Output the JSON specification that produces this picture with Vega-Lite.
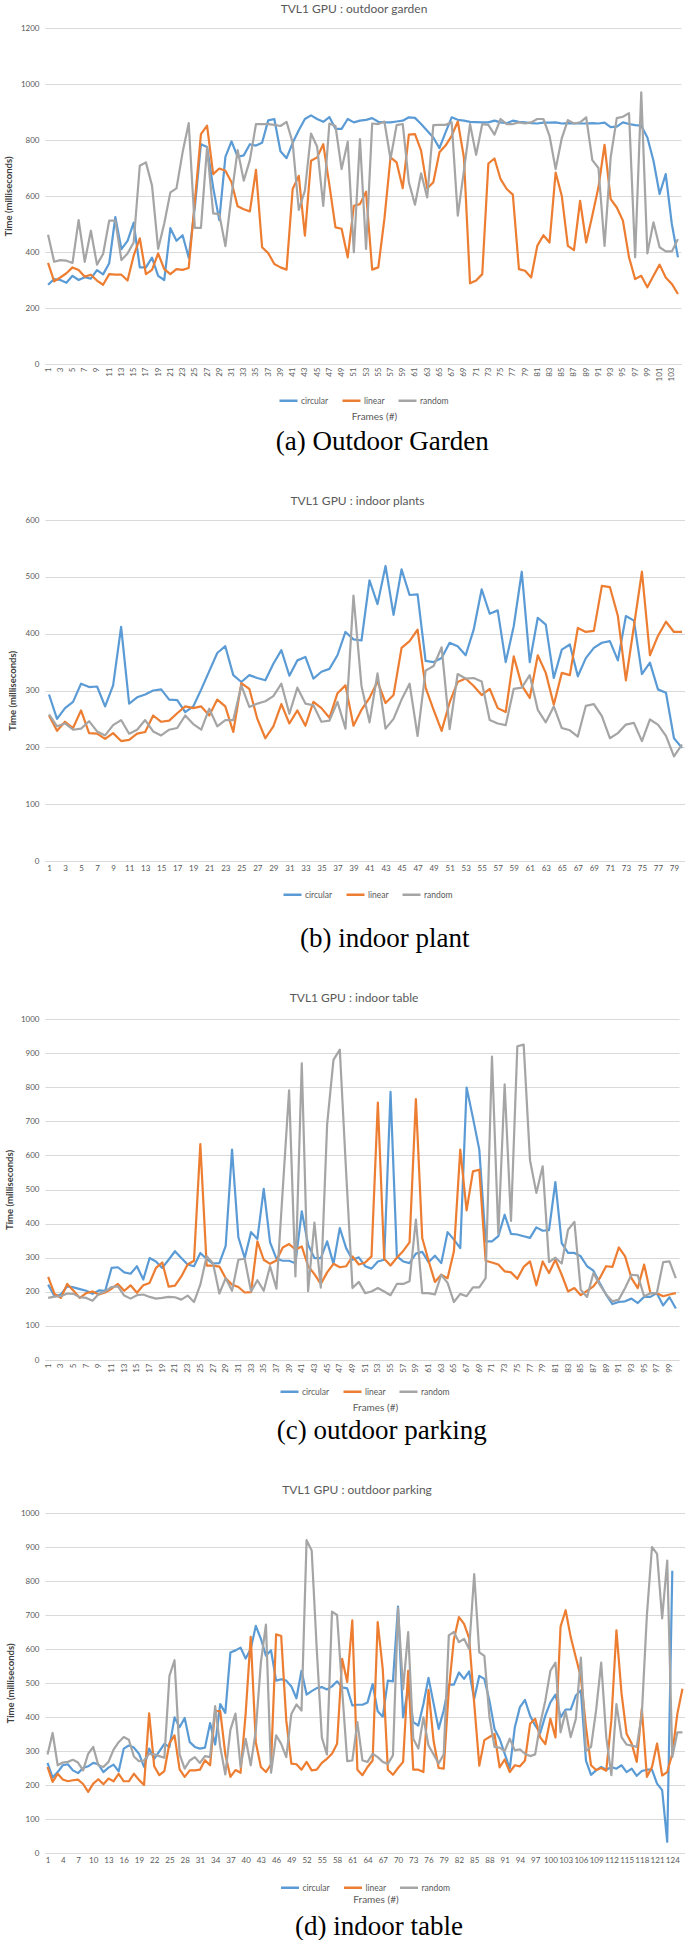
{
"$schema": "https://vega.github.io/schema/vega-lite/v6.json",
"padding": {"left": 3, "top": 3, "right": 0, "bottom": 0},
"background": "white",
"spacing": 40,
"resolve": {"scale": {"color": "independent"}, "legend": {"color": "independent"}},
"datasets": {
"garden": [
{"frame":1,"circular":283,"linear":361,"random":462},
{"frame":2,"circular":303,"linear":295,"random":365},
{"frame":3,"circular":300,"linear":309,"random":371},
{"frame":4,"circular":290,"linear":324,"random":369},
{"frame":5,"circular":315,"linear":345,"random":361},
{"frame":6,"circular":300,"linear":336,"random":514},
{"frame":7,"circular":310,"linear":312,"random":365},
{"frame":8,"circular":305,"linear":319,"random":476},
{"frame":9,"circular":335,"linear":298,"random":355},
{"frame":10,"circular":320,"linear":283,"random":393},
{"frame":11,"circular":360,"linear":321,"random":512},
{"frame":12,"circular":525,"linear":319,"random":512},
{"frame":13,"circular":410,"linear":319,"random":371},
{"frame":14,"circular":440,"linear":298,"random":395},
{"frame":15,"circular":505,"linear":387,"random":434},
{"frame":16,"circular":345,"linear":449,"random":708},
{"frame":17,"circular":345,"linear":321,"random":720},
{"frame":18,"circular":380,"linear":336,"random":637},
{"frame":19,"circular":315,"linear":395,"random":411},
{"frame":20,"circular":300,"linear":339,"random":502},
{"frame":21,"circular":485,"linear":321,"random":613},
{"frame":22,"circular":440,"linear":339,"random":627},
{"frame":23,"circular":460,"linear":336,"random":756},
{"frame":24,"circular":380,"linear":343,"random":860},
{"frame":25,"circular":560,"linear":580,"random":486},
{"frame":26,"circular":785,"linear":821,"random":486},
{"frame":27,"circular":775,"linear":851,"random":774},
{"frame":28,"circular":630,"linear":678,"random":538},
{"frame":29,"circular":514,"linear":698,"random":535},
{"frame":30,"circular":740,"linear":690,"random":421},
{"frame":31,"circular":795,"linear":649,"random":601},
{"frame":32,"circular":740,"linear":563,"random":764},
{"frame":33,"circular":745,"linear":553,"random":655},
{"frame":34,"circular":785,"linear":545,"random":728},
{"frame":35,"circular":780,"linear":693,"random":857},
{"frame":36,"circular":790,"linear":417,"random":857},
{"frame":37,"circular":870,"linear":396,"random":857},
{"frame":38,"circular":875,"linear":357,"random":854},
{"frame":39,"circular":760,"linear":345,"random":850},
{"frame":40,"circular":735,"linear":337,"random":865},
{"frame":41,"circular":790,"linear":625,"random":790},
{"frame":42,"circular":835,"linear":672,"random":550},
{"frame":43,"circular":875,"linear":458,"random":619},
{"frame":44,"circular":888,"linear":726,"random":823},
{"frame":45,"circular":875,"linear":738,"random":776},
{"frame":46,"circular":865,"linear":785,"random":565},
{"frame":47,"circular":882,"linear":640,"random":859},
{"frame":48,"circular":840,"linear":488,"random":850},
{"frame":49,"circular":840,"linear":483,"random":696},
{"frame":50,"circular":875,"linear":381,"random":794},
{"frame":51,"circular":863,"linear":565,"random":399},
{"frame":52,"circular":869,"linear":571,"random":803},
{"frame":53,"circular":872,"linear":615,"random":411},
{"frame":54,"circular":878,"linear":337,"random":859},
{"frame":55,"circular":865,"linear":345,"random":857},
{"frame":56,"circular":863,"linear":518,"random":866},
{"frame":57,"circular":863,"linear":738,"random":732},
{"frame":58,"circular":866,"linear":720,"random":853},
{"frame":59,"circular":869,"linear":628,"random":857},
{"frame":60,"circular":881,"linear":819,"random":649},
{"frame":61,"circular":879,"linear":821,"random":569},
{"frame":62,"circular":857,"linear":762,"random":681},
{"frame":63,"circular":833,"linear":627,"random":595},
{"frame":64,"circular":809,"linear":649,"random":853},
{"frame":65,"circular":771,"linear":756,"random":854},
{"frame":66,"circular":827,"linear":780,"random":854},
{"frame":67,"circular":881,"linear":815,"random":863},
{"frame":68,"circular":872,"linear":866,"random":530},
{"frame":69,"circular":869,"linear":738,"random":690},
{"frame":70,"circular":865,"linear":288,"random":857},
{"frame":71,"circular":864,"linear":298,"random":747},
{"frame":72,"circular":863,"linear":321,"random":857},
{"frame":73,"circular":863,"linear":716,"random":854},
{"frame":74,"circular":869,"linear":734,"random":819},
{"frame":75,"circular":863,"linear":660,"random":875},
{"frame":76,"circular":860,"linear":625,"random":857},
{"frame":77,"circular":869,"linear":605,"random":857},
{"frame":78,"circular":865,"linear":339,"random":863},
{"frame":79,"circular":863,"linear":333,"random":859},
{"frame":80,"circular":860,"linear":309,"random":863},
{"frame":81,"circular":859,"linear":422,"random":875},
{"frame":82,"circular":862,"linear":460,"random":875},
{"frame":83,"circular":862,"linear":434,"random":815},
{"frame":84,"circular":863,"linear":684,"random":696},
{"frame":85,"circular":859,"linear":601,"random":806},
{"frame":86,"circular":860,"linear":422,"random":871},
{"frame":87,"circular":859,"linear":407,"random":859},
{"frame":88,"circular":859,"linear":583,"random":863},
{"frame":89,"circular":859,"linear":434,"random":881},
{"frame":90,"circular":860,"linear":530,"random":728},
{"frame":91,"circular":859,"linear":631,"random":700},
{"frame":92,"circular":862,"linear":783,"random":422},
{"frame":93,"circular":846,"linear":589,"random":738},
{"frame":94,"circular":848,"linear":559,"random":878},
{"frame":95,"circular":863,"linear":512,"random":883},
{"frame":96,"circular":857,"linear":381,"random":896},
{"frame":97,"circular":853,"linear":303,"random":381},
{"frame":98,"circular":851,"linear":315,"random":970},
{"frame":99,"circular":809,"linear":274,"random":395},
{"frame":100,"circular":726,"linear":315,"random":506},
{"frame":101,"circular":607,"linear":355,"random":417},
{"frame":102,"circular":678,"linear":309,"random":402},
{"frame":103,"circular":500,"linear":286,"random":402},
{"frame":104,"circular":381,"linear":250,"random":446}
],
"plant": [
{"frame":1,"circular":293,"linear":256,"random":258},
{"frame":2,"circular":250,"linear":229,"random":237},
{"frame":3,"circular":269,"linear":245,"random":242},
{"frame":4,"circular":280,"linear":234,"random":231},
{"frame":5,"circular":312,"linear":265,"random":233},
{"frame":6,"circular":306,"linear":225,"random":246},
{"frame":7,"circular":307,"linear":224,"random":228},
{"frame":8,"circular":272,"linear":215,"random":221},
{"frame":9,"circular":309,"linear":225,"random":239},
{"frame":10,"circular":412,"linear":211,"random":248},
{"frame":11,"circular":277,"linear":213,"random":224},
{"frame":12,"circular":288,"linear":224,"random":231},
{"frame":13,"circular":293,"linear":227,"random":248},
{"frame":14,"circular":300,"linear":256,"random":228},
{"frame":15,"circular":302,"linear":245,"random":221},
{"frame":16,"circular":284,"linear":247,"random":231},
{"frame":17,"circular":283,"linear":260,"random":234},
{"frame":18,"circular":262,"linear":272,"random":256},
{"frame":19,"circular":272,"linear":269,"random":241},
{"frame":20,"circular":302,"linear":272,"random":231},
{"frame":21,"circular":334,"linear":256,"random":268},
{"frame":22,"circular":366,"linear":284,"random":237},
{"frame":23,"circular":378,"linear":272,"random":248},
{"frame":24,"circular":327,"linear":227,"random":248},
{"frame":25,"circular":315,"linear":313,"random":309},
{"frame":26,"circular":327,"linear":303,"random":271},
{"frame":27,"circular":322,"linear":250,"random":277},
{"frame":28,"circular":318,"linear":216,"random":281},
{"frame":29,"circular":347,"linear":237,"random":290},
{"frame":30,"circular":371,"linear":276,"random":312},
{"frame":31,"circular":326,"linear":242,"random":259},
{"frame":32,"circular":353,"linear":265,"random":305},
{"frame":33,"circular":359,"linear":238,"random":277},
{"frame":34,"circular":321,"linear":280,"random":274},
{"frame":35,"circular":333,"linear":269,"random":245},
{"frame":36,"circular":338,"linear":252,"random":247},
{"frame":37,"circular":362,"linear":295,"random":280},
{"frame":38,"circular":403,"linear":309,"random":233},
{"frame":39,"circular":390,"linear":238,"random":467},
{"frame":40,"circular":388,"linear":266,"random":308},
{"frame":41,"circular":494,"linear":287,"random":244},
{"frame":42,"circular":452,"linear":316,"random":330},
{"frame":43,"circular":519,"linear":278,"random":233},
{"frame":44,"circular":433,"linear":292,"random":250},
{"frame":45,"circular":513,"linear":375,"random":284},
{"frame":46,"circular":468,"linear":387,"random":312},
{"frame":47,"circular":469,"linear":407,"random":220},
{"frame":48,"circular":352,"linear":305,"random":335},
{"frame":49,"circular":350,"linear":266,"random":343},
{"frame":50,"circular":357,"linear":229,"random":376},
{"frame":51,"circular":384,"linear":279,"random":232},
{"frame":52,"circular":378,"linear":315,"random":329},
{"frame":53,"circular":362,"linear":321,"random":321},
{"frame":54,"circular":407,"linear":308,"random":322},
{"frame":55,"circular":478,"linear":292,"random":316},
{"frame":56,"circular":435,"linear":303,"random":248},
{"frame":57,"circular":441,"linear":269,"random":242},
{"frame":58,"circular":350,"linear":262,"random":239},
{"frame":59,"circular":413,"linear":360,"random":303},
{"frame":60,"circular":509,"linear":309,"random":305},
{"frame":61,"circular":350,"linear":287,"random":327},
{"frame":62,"circular":428,"linear":362,"random":266},
{"frame":63,"circular":416,"linear":331,"random":244},
{"frame":64,"circular":322,"linear":275,"random":272},
{"frame":65,"circular":372,"linear":331,"random":234},
{"frame":66,"circular":381,"linear":327,"random":230},
{"frame":67,"circular":325,"linear":410,"random":219},
{"frame":68,"circular":357,"linear":403,"random":273},
{"frame":69,"circular":375,"linear":405,"random":276},
{"frame":70,"circular":384,"linear":484,"random":255},
{"frame":71,"circular":387,"linear":482,"random":216},
{"frame":72,"circular":353,"linear":431,"random":225},
{"frame":73,"circular":431,"linear":318,"random":240},
{"frame":74,"circular":423,"linear":413,"random":243},
{"frame":75,"circular":329,"linear":509,"random":211},
{"frame":76,"circular":349,"linear":362,"random":249},
{"frame":77,"circular":302,"linear":396,"random":240},
{"frame":78,"circular":296,"linear":421,"random":220},
{"frame":79,"circular":216,"linear":403,"random":184},
{"frame":80,"circular":199,"linear":403,"random":205}
],
"parking": [
{"frame":1,"circular":221,"linear":244,"random":182},
{"frame":2,"circular":187,"linear":194,"random":186},
{"frame":3,"circular":192,"linear":182,"random":187},
{"frame":4,"circular":216,"linear":223,"random":195},
{"frame":5,"circular":213,"linear":203,"random":194},
{"frame":6,"circular":208,"linear":182,"random":184},
{"frame":7,"circular":203,"linear":196,"random":182},
{"frame":8,"circular":194,"linear":201,"random":174},
{"frame":9,"circular":204,"linear":192,"random":194},
{"frame":10,"circular":203,"linear":198,"random":201},
{"frame":11,"circular":270,"linear":209,"random":214},
{"frame":12,"circular":272,"linear":223,"random":216},
{"frame":13,"circular":257,"linear":203,"random":189},
{"frame":14,"circular":253,"linear":219,"random":180},
{"frame":15,"circular":275,"linear":197,"random":190},
{"frame":16,"circular":236,"linear":219,"random":192},
{"frame":17,"circular":299,"linear":226,"random":185},
{"frame":18,"circular":289,"linear":270,"random":180},
{"frame":19,"circular":270,"linear":286,"random":182},
{"frame":20,"circular":294,"linear":215,"random":185},
{"frame":21,"circular":319,"linear":218,"random":184},
{"frame":22,"circular":299,"linear":245,"random":177},
{"frame":23,"circular":280,"linear":280,"random":189},
{"frame":24,"circular":275,"linear":291,"random":170},
{"frame":25,"circular":314,"linear":633,"random":221},
{"frame":26,"circular":296,"linear":277,"random":304},
{"frame":27,"circular":283,"linear":277,"random":284},
{"frame":28,"circular":284,"linear":274,"random":195},
{"frame":29,"circular":335,"linear":240,"random":240},
{"frame":30,"circular":617,"linear":221,"random":203},
{"frame":31,"circular":360,"linear":214,"random":294},
{"frame":32,"circular":299,"linear":198,"random":297},
{"frame":33,"circular":375,"linear":199,"random":201},
{"frame":34,"circular":355,"linear":348,"random":234},
{"frame":35,"circular":502,"linear":294,"random":203},
{"frame":36,"circular":345,"linear":282,"random":275},
{"frame":37,"circular":297,"linear":292,"random":209},
{"frame":38,"circular":291,"linear":330,"random":500},
{"frame":39,"circular":291,"linear":340,"random":791},
{"frame":40,"circular":284,"linear":324,"random":245},
{"frame":41,"circular":436,"linear":333,"random":870},
{"frame":42,"circular":338,"linear":275,"random":202},
{"frame":43,"circular":299,"linear":252,"random":403},
{"frame":44,"circular":299,"linear":223,"random":212},
{"frame":45,"circular":348,"linear":257,"random":691},
{"frame":46,"circular":282,"linear":282,"random":880},
{"frame":47,"circular":387,"linear":272,"random":910},
{"frame":48,"circular":328,"linear":275,"random":550},
{"frame":49,"circular":294,"linear":304,"random":211},
{"frame":50,"circular":301,"linear":280,"random":229},
{"frame":51,"circular":275,"linear":286,"random":196},
{"frame":52,"circular":268,"linear":304,"random":201},
{"frame":53,"circular":289,"linear":755,"random":211},
{"frame":54,"circular":294,"linear":297,"random":201},
{"frame":55,"circular":786,"linear":277,"random":190},
{"frame":56,"circular":304,"linear":300,"random":223},
{"frame":57,"circular":289,"linear":320,"random":223},
{"frame":58,"circular":284,"linear":345,"random":231},
{"frame":59,"circular":312,"linear":765,"random":412},
{"frame":60,"circular":317,"linear":358,"random":196},
{"frame":61,"circular":287,"linear":291,"random":196},
{"frame":62,"circular":306,"linear":229,"random":192},
{"frame":63,"circular":284,"linear":250,"random":250},
{"frame":64,"circular":375,"linear":240,"random":226},
{"frame":65,"circular":353,"linear":319,"random":170},
{"frame":66,"circular":328,"linear":617,"random":194},
{"frame":67,"circular":799,"linear":439,"random":187},
{"frame":68,"circular":710,"linear":553,"random":213},
{"frame":69,"circular":617,"linear":558,"random":213},
{"frame":70,"circular":348,"linear":291,"random":240},
{"frame":71,"circular":348,"linear":286,"random":890},
{"frame":72,"circular":363,"linear":280,"random":370},
{"frame":73,"circular":426,"linear":260,"random":808},
{"frame":74,"circular":370,"linear":257,"random":408},
{"frame":75,"circular":368,"linear":238,"random":920},
{"frame":76,"circular":363,"linear":273,"random":925},
{"frame":77,"circular":358,"linear":289,"random":586},
{"frame":78,"circular":389,"linear":219,"random":490},
{"frame":79,"circular":379,"linear":289,"random":568},
{"frame":80,"circular":381,"linear":255,"random":287},
{"frame":81,"circular":522,"linear":294,"random":300},
{"frame":82,"circular":343,"linear":250,"random":283},
{"frame":83,"circular":314,"linear":201,"random":382},
{"frame":84,"circular":314,"linear":211,"random":405},
{"frame":85,"circular":304,"linear":190,"random":206},
{"frame":86,"circular":275,"linear":203,"random":185},
{"frame":87,"circular":262,"linear":216,"random":255},
{"frame":88,"circular":226,"linear":240,"random":221},
{"frame":89,"circular":192,"linear":275,"random":192},
{"frame":90,"circular":164,"linear":273,"random":172},
{"frame":91,"circular":170,"linear":330,"random":177},
{"frame":92,"circular":172,"linear":304,"random":211},
{"frame":93,"circular":180,"linear":240,"random":250},
{"frame":94,"circular":167,"linear":211,"random":248},
{"frame":95,"circular":185,"linear":280,"random":187},
{"frame":96,"circular":185,"linear":196,"random":196},
{"frame":97,"circular":196,"linear":196,"random":196},
{"frame":98,"circular":160,"linear":187,"random":287},
{"frame":99,"circular":184,"linear":192,"random":289},
{"frame":100,"circular":151,"linear":196,"random":240}
],
"table": [
{"frame":1,"circular":265,"linear":253,"random":290},
{"frame":2,"circular":222,"linear":209,"random":353},
{"frame":3,"circular":238,"linear":233,"random":258},
{"frame":4,"circular":258,"linear":216,"random":266},
{"frame":5,"circular":261,"linear":211,"random":268},
{"frame":6,"circular":243,"linear":214,"random":274},
{"frame":7,"circular":235,"linear":216,"random":266},
{"frame":8,"circular":250,"linear":203,"random":243},
{"frame":9,"circular":255,"linear":180,"random":292},
{"frame":10,"circular":265,"linear":204,"random":312},
{"frame":11,"circular":261,"linear":217,"random":258},
{"frame":12,"circular":238,"linear":202,"random":253},
{"frame":13,"circular":251,"linear":219,"random":268},
{"frame":14,"circular":260,"linear":211,"random":304},
{"frame":15,"circular":240,"linear":233,"random":326},
{"frame":16,"circular":307,"linear":211,"random":341},
{"frame":17,"circular":316,"linear":211,"random":333},
{"frame":18,"circular":310,"linear":233,"random":284},
{"frame":19,"circular":292,"linear":215,"random":270},
{"frame":20,"circular":253,"linear":200,"random":272},
{"frame":21,"circular":307,"linear":411,"random":292},
{"frame":22,"circular":277,"linear":255,"random":290},
{"frame":23,"circular":299,"linear":229,"random":285},
{"frame":24,"circular":321,"linear":241,"random":280},
{"frame":25,"circular":312,"linear":323,"random":521},
{"frame":26,"circular":399,"linear":346,"random":567},
{"frame":27,"circular":370,"linear":246,"random":290},
{"frame":28,"circular":397,"linear":224,"random":248},
{"frame":29,"circular":326,"linear":243,"random":272},
{"frame":30,"circular":312,"linear":243,"random":282},
{"frame":31,"circular":307,"linear":245,"random":265},
{"frame":32,"circular":310,"linear":273,"random":285},
{"frame":33,"circular":382,"linear":258,"random":282},
{"frame":34,"circular":319,"linear":417,"random":432},
{"frame":35,"circular":438,"linear":417,"random":312},
{"frame":36,"circular":412,"linear":290,"random":231},
{"frame":37,"circular":590,"linear":224,"random":362},
{"frame":38,"circular":596,"linear":244,"random":410},
{"frame":39,"circular":604,"linear":236,"random":253},
{"frame":40,"circular":572,"linear":409,"random":336},
{"frame":41,"circular":600,"linear":636,"random":258},
{"frame":42,"circular":668,"linear":326,"random":360},
{"frame":43,"circular":630,"linear":253,"random":560},
{"frame":44,"circular":580,"linear":238,"random":672},
{"frame":45,"circular":596,"linear":261,"random":236},
{"frame":46,"circular":507,"linear":643,"random":346},
{"frame":47,"circular":511,"linear":638,"random":321},
{"frame":48,"circular":507,"linear":390,"random":282},
{"frame":49,"circular":490,"linear":263,"random":409},
{"frame":50,"circular":455,"linear":261,"random":437},
{"frame":51,"circular":536,"linear":245,"random":419},
{"frame":52,"circular":466,"linear":268,"random":920},
{"frame":53,"circular":476,"linear":243,"random":890},
{"frame":54,"circular":485,"linear":245,"random":600},
{"frame":55,"circular":488,"linear":265,"random":340},
{"frame":56,"circular":481,"linear":277,"random":290},
{"frame":57,"circular":490,"linear":292,"random":710},
{"frame":58,"circular":505,"linear":321,"random":700},
{"frame":59,"circular":487,"linear":571,"random":480},
{"frame":60,"circular":484,"linear":503,"random":270},
{"frame":61,"circular":434,"linear":684,"random":272},
{"frame":62,"circular":436,"linear":245,"random":385},
{"frame":63,"circular":436,"linear":229,"random":272},
{"frame":64,"circular":443,"linear":253,"random":268},
{"frame":65,"circular":497,"linear":272,"random":292},
{"frame":66,"circular":417,"linear":679,"random":282},
{"frame":67,"circular":401,"linear":540,"random":268},
{"frame":68,"circular":507,"linear":245,"random":262},
{"frame":69,"circular":505,"linear":230,"random":287},
{"frame":70,"circular":725,"linear":250,"random":720},
{"frame":71,"circular":399,"linear":268,"random":482},
{"frame":72,"circular":485,"linear":536,"random":650},
{"frame":73,"circular":385,"linear":245,"random":336},
{"frame":74,"circular":375,"linear":245,"random":307},
{"frame":75,"circular":438,"linear":238,"random":399},
{"frame":76,"circular":515,"linear":480,"random":316},
{"frame":77,"circular":440,"linear":330,"random":290},
{"frame":78,"circular":365,"linear":250,"random":263},
{"frame":79,"circular":420,"linear":248,"random":290},
{"frame":80,"circular":495,"linear":480,"random":640},
{"frame":81,"circular":495,"linear":628,"random":650},
{"frame":82,"circular":531,"linear":694,"random":620},
{"frame":83,"circular":512,"linear":674,"random":630},
{"frame":84,"circular":534,"linear":632,"random":600},
{"frame":85,"circular":453,"linear":440,"random":820},
{"frame":86,"circular":521,"linear":257,"random":590},
{"frame":87,"circular":512,"linear":332,"random":580},
{"frame":88,"circular":448,"linear":341,"random":400},
{"frame":89,"circular":365,"linear":350,"random":312},
{"frame":90,"circular":336,"linear":252,"random":310},
{"frame":91,"circular":292,"linear":275,"random":300},
{"frame":92,"circular":248,"linear":238,"random":336},
{"frame":93,"circular":370,"linear":258,"random":302},
{"frame":94,"circular":429,"linear":255,"random":305},
{"frame":95,"circular":450,"linear":272,"random":292},
{"frame":96,"circular":404,"linear":380,"random":285},
{"frame":97,"circular":375,"linear":395,"random":290},
{"frame":98,"circular":353,"linear":340,"random":380},
{"frame":99,"circular":404,"linear":320,"random":448},
{"frame":100,"circular":443,"linear":395,"random":536},
{"frame":101,"circular":466,"linear":340,"random":560},
{"frame":102,"circular":399,"linear":666,"random":355},
{"frame":103,"circular":422,"linear":714,"random":416},
{"frame":104,"circular":422,"linear":635,"random":341},
{"frame":105,"circular":463,"linear":576,"random":394},
{"frame":106,"circular":478,"linear":517,"random":575},
{"frame":107,"circular":272,"linear":371,"random":300},
{"frame":108,"circular":230,"linear":258,"random":312},
{"frame":109,"circular":243,"linear":244,"random":420},
{"frame":110,"circular":253,"linear":250,"random":560},
{"frame":111,"circular":245,"linear":242,"random":340},
{"frame":112,"circular":253,"linear":390,"random":229},
{"frame":113,"circular":248,"linear":655,"random":438},
{"frame":114,"circular":258,"linear":470,"random":341},
{"frame":115,"circular":238,"linear":351,"random":319},
{"frame":116,"circular":248,"linear":322,"random":316},
{"frame":117,"circular":227,"linear":268,"random":312},
{"frame":118,"circular":241,"linear":425,"random":409},
{"frame":119,"circular":245,"linear":224,"random":700},
{"frame":120,"circular":245,"linear":253,"random":900},
{"frame":121,"circular":204,"linear":322,"random":880},
{"frame":122,"circular":185,"linear":228,"random":690},
{"frame":123,"circular":33,"linear":238,"random":860},
{"frame":124,"circular":830,"linear":292,"random":282},
{"frame":125,"circular":null,"linear":410,"random":355},
{"frame":126,"circular":null,"linear":483,"random":355}
]
},
"vconcat": [
{
"title": {"text": "(a) Outdoor Garden", "orient": "bottom", "font": "Liberation Serif", "fontSize": 27, "fontWeight": "normal", "color": "#000000", "anchor": "middle", "offset": 8, "dx": 40},
"resolve": {"scale": {"color": "independent"}, "legend": {"color": "independent"}},
"vconcat": [
{
"title": {"text": "TVL1 GPU : outdoor garden", "font": "Lato", "fontSize": 12, "fontWeight": "normal", "color": "#595959", "anchor": "middle", "frame": "group", "offset": 8, "dx": -9},
"width": 636, "height": 336,
"data": {"name": "garden"},
"transform": [{"fold": ["circular", "linear", "random"], "as": ["series", "time"]}],
"mark": {"type": "line", "strokeWidth": 2.2, "strokeJoin": "round"},
"encoding": {
"x": {"field": "frame", "type": "quantitative", "scale": {"domain": [0.5, 104.5], "nice": false, "zero": false},
"axis": {"values": [1,3,5,7,9,11,13,15,17,19,21,23,25,27,29,31,33,35,37,39,41,43,45,47,49,51,53,55,57,59,61,63,65,67,69,71,73,75,77,79,81,83,85,87,89,91,93,95,97,99,101,103], "labelAngle": -90, "title": "Frames (#)", "titleX": 329, "titleY": 52, "titleBaseline": "middle", "titleAlign": "center"}},
"y": {"field": "time", "type": "quantitative", "scale": {"domain": [0, 1200], "nice": false},
"axis": {"values": [0,200,400,600,800,1000,1200], "format": "d", "title": "Time (milliseconds)", "titleX": -36.5, "titleY": 168, "titleBaseline": "middle"}},
"color": {"field": "series", "type": "nominal", "scale": {"domain": ["circular", "linear", "random"], "range": ["#5B9BD5", "#ED7D31", "#A5A5A5"]},
"legend": {"orient": "none", "legendX": 233, "legendY": 362, "direction": "horizontal", "title": null}}
}
}
]
},
{
"title": {"text": "(b) indoor plant", "orient": "bottom", "font": "Liberation Serif", "fontSize": 27, "fontWeight": "normal", "color": "#000000", "anchor": "middle", "offset": 26, "dx": 38},
"resolve": {"scale": {"color": "independent"}, "legend": {"color": "independent"}},
"vconcat": [
{
"title": {"text": "TVL1 GPU : indoor plants", "font": "Lato", "fontSize": 12, "fontWeight": "normal", "color": "#595959", "anchor": "middle", "frame": "group", "offset": 8, "dx": -8},
"width": 641, "height": 341,
"data": {"name": "plant"},
"transform": [{"fold": ["circular", "linear", "random"], "as": ["series", "time"]}],
"mark": {"type": "line", "strokeWidth": 2.2, "strokeJoin": "round"},
"encoding": {
"x": {"field": "frame", "type": "quantitative", "scale": {"domain": [0.5, 80.5], "nice": false, "zero": false},
"axis": {"values": [1,3,5,7,9,11,13,15,17,19,21,23,25,27,29,31,33,35,37,39,41,43,45,47,49,51,53,55,57,59,61,63,65,67,69,71,73,75,77,79], "labelAngle": 0, "title": null}},
"y": {"field": "time", "type": "quantitative", "scale": {"domain": [0, 600], "nice": false},
"axis": {"values": [0,100,200,300,400,500,600], "format": "d", "title": "Time (milliseconds)", "titleX": -32.5, "titleY": 170.5, "titleBaseline": "middle"}},
"color": {"field": "series", "type": "nominal", "scale": {"domain": ["circular", "linear", "random"], "range": ["#5B9BD5", "#ED7D31", "#A5A5A5"]},
"legend": {"orient": "none", "legendX": 237, "legendY": 364, "direction": "horizontal", "title": null}}
}
}
]
},
{
"title": {"text": "(c) outdoor parking", "orient": "bottom", "font": "Liberation Serif", "fontSize": 27, "fontWeight": "normal", "color": "#000000", "anchor": "middle", "offset": 6, "dx": 40},
"resolve": {"scale": {"color": "independent"}, "legend": {"color": "independent"}},
"vconcat": [
{
"title": {"text": "TVL1 GPU : indoor table", "font": "Lato", "fontSize": 12, "fontWeight": "normal", "color": "#595959", "anchor": "middle", "frame": "group", "offset": 10, "dx": -8},
"width": 634, "height": 341,
"data": {"name": "parking"},
"transform": [{"fold": ["circular", "linear", "random"], "as": ["series", "time"]}],
"mark": {"type": "line", "strokeWidth": 2.2, "strokeJoin": "round"},
"encoding": {
"x": {"field": "frame", "type": "quantitative", "scale": {"domain": [0.5, 100.5], "nice": false, "zero": false},
"axis": {"values": [1,3,5,7,9,11,13,15,17,19,21,23,25,27,29,31,33,35,37,39,41,43,45,47,49,51,53,55,57,59,61,63,65,67,69,71,73,75,77,79,81,83,85,87,89,91,93,95,97,99], "labelAngle": -90, "title": "Frames (#)", "titleX": 330, "titleY": 47, "titleBaseline": "middle", "titleAlign": "center"}},
"y": {"field": "time", "type": "quantitative", "scale": {"domain": [0, 1000], "nice": false},
"axis": {"values": [0,100,200,300,400,500,600,700,800,900,1000], "format": "d", "title": "Time (milliseconds)", "titleX": -35.5, "titleY": 170.5, "titleBaseline": "middle"}},
"color": {"field": "series", "type": "nominal", "scale": {"domain": ["circular", "linear", "random"], "range": ["#5B9BD5", "#ED7D31", "#A5A5A5"]},
"legend": {"orient": "none", "legendX": 234, "legendY": 362, "direction": "horizontal", "title": null}}
}
}
]
},
{
"title": {"text": "(d) indoor table", "orient": "bottom", "font": "Liberation Serif", "fontSize": 27, "fontWeight": "normal", "color": "#000000", "anchor": "middle", "offset": 10, "dx": 34},
"resolve": {"scale": {"color": "independent"}, "legend": {"color": "independent"}},
"vconcat": [
{
"title": {"text": "TVL1 GPU : outdoor parking", "font": "Lato", "fontSize": 12, "fontWeight": "normal", "color": "#595959", "anchor": "middle", "frame": "group", "offset": 12, "dx": -8},
"width": 640, "height": 340,
"data": {"name": "table"},
"transform": [{"fold": ["circular", "linear", "random"], "as": ["series", "time"]}],
"mark": {"type": "line", "strokeWidth": 2.2, "strokeJoin": "round"},
"encoding": {
"x": {"field": "frame", "type": "quantitative", "scale": {"domain": [0.5, 126.5], "nice": false, "zero": false},
"axis": {"values": [1,4,7,10,13,16,19,22,25,28,31,34,37,40,43,46,49,52,55,58,61,64,67,70,73,76,79,82,85,88,91,94,97,100,103,106,109,112,115,118,121,124], "labelAngle": 0, "title": "Frames (#)", "titleX": 330.5, "titleY": 46, "titleBaseline": "middle", "titleAlign": "center"}},
"y": {"field": "time", "type": "quantitative", "scale": {"domain": [0, 1000], "nice": false},
"axis": {"values": [0,100,200,300,400,500,600,700,800,900,1000], "format": "d", "title": "Time (milliseconds)", "titleX": -35, "titleY": 170, "titleBaseline": "middle"}},
"color": {"field": "series", "type": "nominal", "scale": {"domain": ["circular", "linear", "random"], "range": ["#5B9BD5", "#ED7D31", "#A5A5A5"]},
"legend": {"orient": "none", "legendX": 234.5, "legendY": 364, "direction": "horizontal", "title": null}}
}
}
]
}
],
"config": {
"view": {"stroke": null},
"font": "Lato",
"axis": {"labelFont": "Lato", "labelFontSize": 8, "labelColor": "#595959", "ticks": false, "gridColor": "#d9d9d9", "gridWidth": 1, "domainColor": "#d9d9d9", "domainWidth": 1, "labelOverlap": false, "labelFlush": false},
"axisY": {"domain": false, "labelPadding": 6, "titleFont": "Lato", "titleFontSize": 9.5, "titleFontWeight": "bold", "titleColor": "#404040"},
"axisX": {"grid": false, "labelPadding": 3, "titleFont": "Lato", "titleFontSize": 10, "titleFontWeight": "normal", "titleColor": "#595959"},
"legend": {"symbolType": "stroke", "symbolSize": 324, "symbolStrokeWidth": 2.5, "labelFont": "Lato", "labelFontSize": 8.5, "labelColor": "#595959", "columnPadding": 8, "labelOffset": 2, "padding": 0}
}
}
